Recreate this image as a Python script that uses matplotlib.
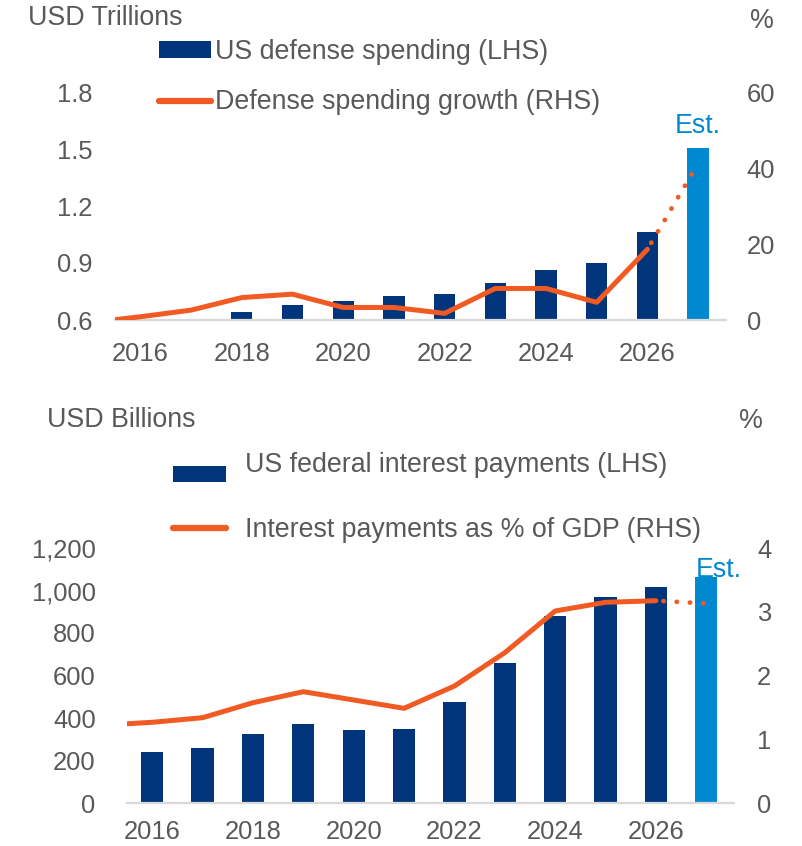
import matplotlib
matplotlib.use("Agg")
import matplotlib.pyplot as plt
from matplotlib.patches import Patch, Rectangle
from matplotlib.lines import Line2D
from matplotlib.legend_handler import HandlerPatch

plt.rcParams['font.family'] = ['Liberation Sans', 'DejaVu Sans']

# ---------------- data ----------------
years = [2016, 2017, 2018, 2019, 2020, 2021, 2022, 2023, 2024, 2025, 2026, 2027]
defense = [0.589, 0.604, 0.640, 0.680, 0.702, 0.726, 0.735, 0.795, 0.862, 0.898, 1.065, 1.505]
growth_years = [2015, 2016, 2017, 2018, 2019, 2020, 2021, 2022, 2023, 2024, 2025, 2026, 2027]
growth = [-0.7, 0.85, 2.6, 5.9, 6.8, 3.3, 3.3, 1.75, 8.3, 8.3, 4.65, 18.6, 41.2]

interest = [240, 260, 323, 373, 344, 350, 474, 657, 880, 968, 1016, 1062]
pct_years = [2015, 2016, 2017, 2018, 2019, 2020, 2021, 2022, 2023, 2024, 2025, 2026, 2027]
pct_gdp = [1.22, 1.266, 1.338, 1.573, 1.746, 1.616, 1.485, 1.835, 2.358, 3.012, 3.148, 3.173, 3.13]

xticks = [2016, 2018, 2020, 2022, 2024, 2026]

NAVY = '#00357B'
LIGHT = '#0088D1'
ORANGE = '#F15A22'
GREY_TXT = '#595959'
BASE = '#D9D9D9'
FS = 18.4     # tick labels
FT = 19.3     # titles / legends

fig = plt.figure(figsize=(8.03, 8.46), dpi=100)

def style(ax, ax2, lpad, rpad, xpad):
    for a in (ax, ax2):
        for s in a.spines.values():
            s.set_visible(False)
        a.tick_params(length=0, labelsize=FS, colors=GREY_TXT)
    ax.spines['bottom'].set_visible(True)
    ax.spines['bottom'].set_color(BASE)
    ax.spines['bottom'].set_linewidth(1.6)
    ax.tick_params(axis='y', pad=lpad)
    ax.tick_params(axis='x', pad=xpad)
    ax2.tick_params(axis='y', pad=rpad)
    ax.set_zorder(1)
    ax2.set_zorder(2)
    ax2.patch.set_visible(False)

# ---------------- top chart ----------------
ax = fig.add_axes([115/803, 1-320/846, (726-115)/803, (320-92)/846])
ax2 = ax.twinx()
colors = [NAVY]*(len(years)-1) + [LIGHT]
ax.bar(years, defense, width=0.42, color=colors, zorder=2)
ax.set_ylim(0.6, 1.8)
ax.set_yticks([0.6, 0.9, 1.2, 1.5, 1.8])
ax.set_yticklabels(['0.6', '0.9', '1.2', '1.5', '1.8'])
ax.set_xlim(2015.5, 2027.55)
ax.set_xticks(xticks)
ax2.set_ylim(0, 60)
ax2.set_yticks([0, 20, 40, 60])
ax2.plot(growth_years[:-1], growth[:-1], color=ORANGE, lw=3.6, solid_capstyle='round')
ax2.plot(growth_years[-2:], growth[-2:], color=ORANGE, lw=3.4,
         linestyle=(1.2, (0.05, 2.75)), dash_capstyle='round')
style(ax, ax2, 16.5, 15, 15.5)
ax.text(2027, 1.505 + 0.077, 'Est.', color=LIGHT, fontsize=FT, ha='center', va='baseline')

fig.text(28/803, 1-18/846, 'USD Trillions', fontsize=FT, color=GREY_TXT, va='center', ha='left')
fig.text(774/803, 1-21/846, '%', fontsize=FT, color=GREY_TXT, va='center', ha='right')

h1 = [Patch(facecolor=NAVY), Line2D([], [], color=ORANGE, lw=4.5, solid_capstyle='round')]
leg1 = fig.legend(h1, ['US defense spending (LHS)', 'Defense spending growth (RHS)'],
                  loc='upper left', bbox_to_anchor=(159/803, 1-39/846), frameon=False,
                  fontsize=FT, handlelength=1.94, handleheight=0.55, handletextpad=0.15,
                  labelspacing=0.91, borderaxespad=0, borderpad=0)
for t in leg1.get_texts():
    t.set_color(GREY_TXT)

# ---------------- bottom chart ----------------
bx = fig.add_axes([127/803, 1-803/846, (734-127)/803, (803-548)/846])
bx2 = bx.twinx()
bx.bar(years, interest, width=0.44, color=colors, zorder=2)
bx.set_ylim(0, 1200)
bx.set_yticks([0, 200, 400, 600, 800, 1000, 1200])
bx.set_yticklabels(['0', '200', '400', '600', '800', '1,000', '1,200'])
bx.set_xlim(2015.5, 2027.55)
bx.set_xticks(xticks)
bx2.set_ylim(0, 4)
bx2.set_yticks([0, 1, 2, 3, 4])
bx2.plot(pct_years[:-1], pct_gdp[:-1], color=ORANGE, lw=3.6, solid_capstyle='round')
bx2.plot(pct_years[-2:], pct_gdp[-2:], color=ORANGE, lw=3.4,
         linestyle=(1.2, (0.05, 2.75)), dash_capstyle='round')
style(bx, bx2, 22.5, 16.5, 12.0)
bx.text(2027.25, 1062, 'Est.', color=LIGHT, fontsize=FT, ha='center', va='baseline')

fig.text(47/803, 1-420/846, 'USD Billions', fontsize=FT, color=GREY_TXT, va='center', ha='left')
fig.text(763/803, 1-421/846, '%', fontsize=FT, color=GREY_TXT, va='center', ha='right')


def shifted_rect(legend, orig_handle, xdescent, ydescent, width, height, fontsize):
    return Rectangle((-xdescent, -ydescent - 8.5), width, height)


h2 = [Patch(facecolor=NAVY), Line2D([], [], color=ORANGE, lw=4.5, solid_capstyle='round')]
leg2 = fig.legend(h2, ['US federal interest payments (LHS)', 'Interest payments as % of GDP (RHS)'],
                  loc='upper left', bbox_to_anchor=(173/803, 1-452/846), frameon=False,
                  fontsize=FT, handlelength=1.98, handleheight=0.55, handletextpad=0.71,
                  labelspacing=1.44, borderaxespad=0, borderpad=0,
                  handler_map={Patch: HandlerPatch(patch_func=shifted_rect)})
for t in leg2.get_texts():
    t.set_color(GREY_TXT)

fig.savefig('out.png', dpi=100)
